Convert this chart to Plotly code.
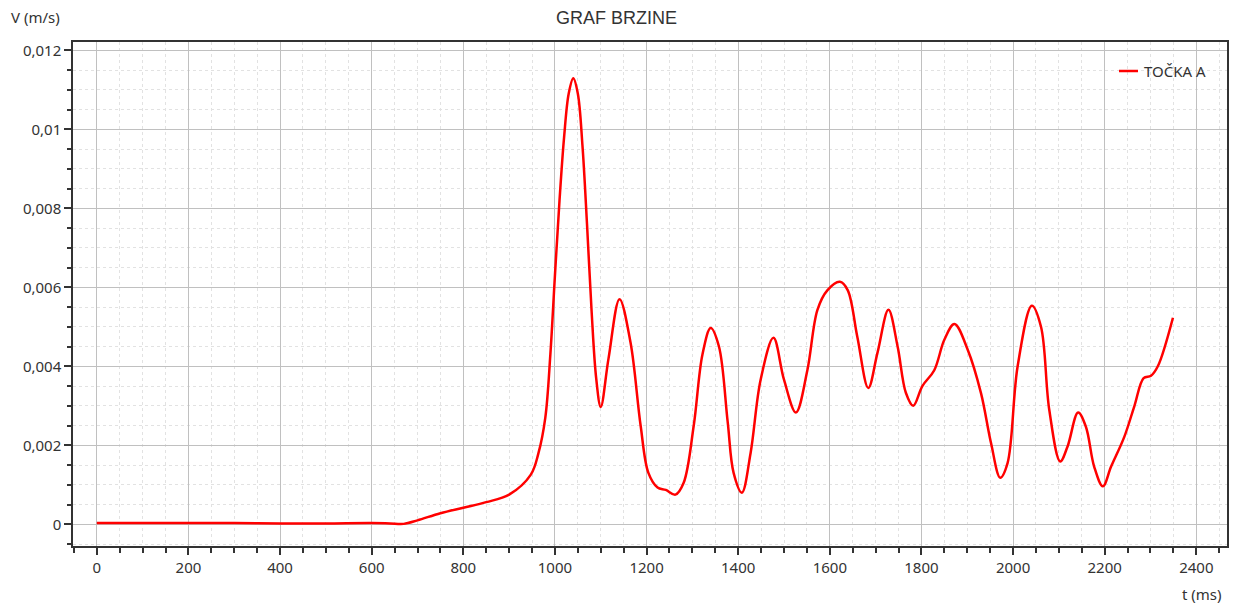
import plotly.graph_objects as go

# time (ms)
t_ms = [0, 100, 200, 300, 400, 500, 600, 640, 670, 700, 750, 800, 850, 900, 947, 964, 979,
        990, 1000, 1010, 1020, 1030, 1040, 1050, 1060, 1070, 1080, 1090, 1100, 1117, 1141,
        1165, 1187, 1204,
        1224, 1242, 1263, 1281, 1303, 1322, 1340, 1358, 1377, 1390, 1408, 1427, 1449, 1477,
        1500, 1526, 1551, 1573, 1595, 1622, 1639, 1660, 1684, 1704, 1728, 1748, 1766, 1782,
        1802, 1828, 1850, 1872, 1901, 1930, 1952, 1972, 1988, 2010, 2041, 2061, 2079, 2103,
        2119, 2142, 2159, 2177, 2196, 2214, 2243, 2265, 2285, 2301, 2316, 2349]
# velocity (m/s)
v_ms = [0.00003, 0.00003, 0.00003, 0.00003, 0.00002, 0.00002, 0.00003, 0.00002, 0.00001,
        0.0001, 0.00028, 0.00042, 0.00056, 0.00075, 0.00125, 0.0018, 0.0027,
        0.0043, 0.0063, 0.0082, 0.0098, 0.0109, 0.01129, 0.0109, 0.0096, 0.0076, 0.0054,
        0.0037, 0.00297, 0.0042, 0.0057,
        0.0046, 0.0025, 0.0013,
        0.00093, 0.00087, 0.00075, 0.00105, 0.0025, 0.0043, 0.00497, 0.0045, 0.0026, 0.0013,
        0.0008, 0.0018, 0.00366, 0.00472,
        0.00366, 0.00283, 0.0039, 0.00543, 0.00593, 0.00614, 0.00593, 0.00475, 0.00345,
        0.00434, 0.00543, 0.0045, 0.00333, 0.003,
        0.0035, 0.0039, 0.00467, 0.00507, 0.00442, 0.00332, 0.00205, 0.00118, 0.00155,
        0.004, 0.00553, 0.005, 0.0029, 0.00159,
        0.00197, 0.00283, 0.00247, 0.00146, 0.00096, 0.00146, 0.00222, 0.003, 0.0037,
        0.00376, 0.004, 0.00523]

series_name = "TOČKA A"
chart_title = "GRAF BRZINE"
x_title = "t (ms)"
y_title = "V (m/s)"

x_tick_vals = [0, 200, 400, 600, 800, 1000, 1200, 1400, 1600, 1800, 2000, 2200, 2400]
x_tick_labels = [str(v) for v in x_tick_vals]
y_tick_vals = [0, 0.002, 0.004, 0.006, 0.008, 0.01, 0.012]
y_tick_labels = ["0", "0,002", "0,004", "0,006", "0,008", "0,01", "0,012"]

FONT = "Noto Sans"
TXT = "#333333"
RED = "#ff0000"

W, H = 1233, 605
ML, MR, MT, MB = 73, 6, 42, 59
PW, PH = W - ML - MR, H - MT - MB


def px_x(p):
    return (p - ML) / PW


def px_y(p):
    return (H - MB - p) / PH


fig = go.Figure()
fig.add_trace(go.Scatter(
    x=t_ms, y=v_ms, mode="lines", name=series_name, showlegend=False,
    line=dict(color=RED, width=2.5, shape="spline", smoothing=1.0),
))

fig.update_layout(
    width=W, height=H,
    margin=dict(l=ML, r=MR, t=MT, b=MB),
    paper_bgcolor="white", plot_bgcolor="white",
    font=dict(family=FONT, size=15, color=TXT),
    title=dict(text=chart_title, x=0.5, xanchor="center", y=1 - 18 / H, yanchor="middle",
               font=dict(family="Liberation Sans", size=18, color=TXT)),
    showlegend=False,
    xaxis=dict(
        range=[-52, 2467], tickvals=x_tick_vals, ticktext=x_tick_labels,
        automargin=False,
        showgrid=True, gridcolor="#c0c0c0", gridwidth=1,
        showline=True, linecolor="#333333", linewidth=1.5, mirror=True,
        ticks="outside", ticklen=7, tickcolor="#333333", tickwidth=1.5,
        zeroline=False,
        tickfont=dict(family=FONT, size=15, color=TXT),
        minor=dict(dtick=50, tick0=0, showgrid=True, gridcolor="#e2e2e2", griddash="dot",
                   ticks="outside", ticklen=5, tickcolor="#333333", tickwidth=1.5),
    ),
    yaxis=dict(
        range=[-0.00055, 0.01221], tickvals=y_tick_vals, ticktext=y_tick_labels,
        automargin=False,
        showgrid=True, gridcolor="#c0c0c0", gridwidth=1,
        showline=True, linecolor="#333333", linewidth=1.5, mirror=True,
        ticks="outside", ticklen=7, tickcolor="#333333", tickwidth=1.5,
        zeroline=False,
        tickfont=dict(family=FONT, size=15, color=TXT),
        minor=dict(dtick=0.0005, tick0=0, showgrid=True, gridcolor="#e2e2e2", griddash="dot",
                   ticks="outside", ticklen=4, tickcolor="#333333", tickwidth=1.5),
    ),
    shapes=[
        dict(type="line", xref="paper", yref="paper",
             x0=px_x(1119), x1=px_x(1138), y0=px_y(71), y1=px_y(71),
             line=dict(color=RED, width=2.5)),
    ],
    annotations=[
        dict(text=series_name, xref="paper", yref="paper", x=px_x(1142), y=px_y(71),
             xanchor="left", yanchor="middle", showarrow=False,
             font=dict(family=FONT, size=15, color=TXT)),
        dict(text=y_title, xref="paper", yref="paper", x=px_x(9), y=px_y(17),
             xanchor="left", yanchor="middle", showarrow=False,
             font=dict(family=FONT, size=15, color=TXT)),
        dict(text=x_title, xref="paper", yref="paper", x=px_x(1224), y=px_y(594),
             xanchor="right", yanchor="middle", showarrow=False,
             font=dict(family=FONT, size=15, color=TXT)),
    ],
)

fig.write_html("out.html", config={"displayModeBar": False},
               post_script="document.body.style.margin='0';")
